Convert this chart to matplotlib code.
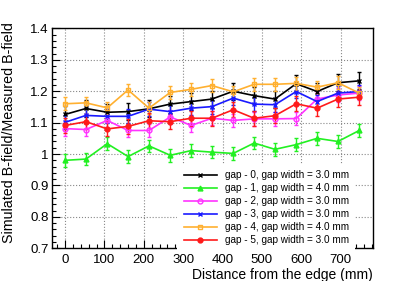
import matplotlib
matplotlib.use("Agg")
import matplotlib.pyplot as plt
from matplotlib.ticker import MultipleLocator
from matplotlib.lines import Line2D

plt.rcParams['font.family'] = ['Liberation Sans', 'DejaVu Sans']

distance = [0, 53, 107, 160, 213, 267, 320, 373, 427, 480, 533, 587, 640, 693, 747]

gap0 = [1.126, 1.145, 1.133, 1.135, 1.144, 1.159, 1.167, 1.175, 1.200, 1.186, 1.175, 1.224, 1.199, 1.227, 1.233]
gap1 = [0.980, 0.984, 1.033, 0.992, 1.026, 0.996, 1.011, 1.006, 1.002, 1.035, 1.015, 1.030, 1.050, 1.040, 1.075]
gap2 = [1.081, 1.078, 1.107, 1.075, 1.075, 1.118, 1.091, 1.114, 1.107, 1.112, 1.112, 1.113, 1.175, 1.188, 1.194]
gap3 = [1.101, 1.123, 1.120, 1.120, 1.143, 1.135, 1.146, 1.151, 1.178, 1.159, 1.157, 1.199, 1.167, 1.194, 1.199]
gap4 = [1.160, 1.163, 1.147, 1.204, 1.146, 1.196, 1.206, 1.218, 1.198, 1.222, 1.222, 1.225, 1.213, 1.227, 1.194]
gap5 = [1.091, 1.103, 1.080, 1.088, 1.106, 1.103, 1.114, 1.114, 1.141, 1.114, 1.122, 1.160, 1.146, 1.175, 1.181]

err0 = [0.027] * 15
err1 = [0.02] * 15
err2 = [0.022] * 15
err3 = [0.022] * 15
err4 = [0.02] * 15
err5 = [0.024] * 15

labels = ["gap - 0, gap width = 3.0 mm",
          "gap - 1, gap width = 4.0 mm",
          "gap - 2, gap width = 3.0 mm",
          "gap - 3, gap width = 3.0 mm",
          "gap - 4, gap width = 4.0 mm",
          "gap - 5, gap width = 3.0 mm"]

series = [gap0, gap1, gap2, gap3, gap4, gap5]
errors = [err0, err1, err2, err3, err4, err5]
colors = ["#000000", "#22f022", "#ff33ff", "#1a1aff", "#ffb030", "#ff1a1a"]
markers = ["x", "^", "o", "x", "s", "o"]
filled = [True, True, False, True, False, True]

fig = plt.figure(figsize=(4.15, 2.81), dpi=100)
ax = fig.add_axes([0.1246, 0.1164, 0.8988 - 0.1246, 0.899 - 0.1164])

handles = []
for y, e, c, m, f, lab in zip(series, errors, colors, markers, filled, labels):
    ax.errorbar(distance, y, yerr=e, color=c, marker=m, markersize=3.5,
                markerfacecolor=(c if f else 'none'), markeredgecolor=c,
                markeredgewidth=1.0, linewidth=1.2, elinewidth=1.0,
                capsize=1.5, capthick=1.0)
    handles.append(Line2D([], [], color=c, marker=m, markersize=3.5,
                          markerfacecolor=(c if f else 'none'), markeredgecolor=c,
                          markeredgewidth=1.0, linewidth=1.2, label=lab))

ax.set_xlim(-34, 782)
ax.set_ylim(0.7, 1.4)
ax.xaxis.set_major_locator(MultipleLocator(100))
ax.xaxis.set_minor_locator(MultipleLocator(20))
ax.yaxis.set_minor_locator(MultipleLocator(0.02))
ax.set_yticks([0.7, 0.8, 0.9, 1.0, 1.1, 1.2, 1.3, 1.4])
ax.set_yticklabels(["0.7", "0.8", "0.9", "1", "1.1", "1.2", "1.3", "1.4"])
ax.tick_params(which='both', direction='in', top=False, right=False, labelsize=9.5)
ax.tick_params(which='major', length=6, width=0.8)
ax.tick_params(which='minor', length=3, width=0.8)
ax.tick_params(axis='y', pad=2)
ax.tick_params(axis='x', pad=4)
ax.grid(True, which='major', linestyle=':', color='#888888', linewidth=0.8)
ax.set_axisbelow(True)
for s in ax.spines.values():
    s.set_linewidth(1.0)

ax.set_xlabel("Distance from the edge (mm)", fontsize=10.0, loc='right')
ax.xaxis.set_label_coords(1.0, -0.088)
ax.set_ylabel("Simulated B-field/Measured B-field", fontsize=10.3, loc='top')
ax.yaxis.set_label_coords(-0.111, 1.029)

leg = ax.legend(handles=handles, loc='upper left', bbox_to_anchor=(0.39, 0.385),
                fontsize=7.2, frameon=True, fancybox=False, edgecolor='white',
                framealpha=1.0, handlelength=3.3, handletextpad=0.8,
                labelspacing=0.3, borderpad=0.65, borderaxespad=0.0)
leg.get_frame().set_linewidth(0)

fig.savefig("out.png", dpi=100)
